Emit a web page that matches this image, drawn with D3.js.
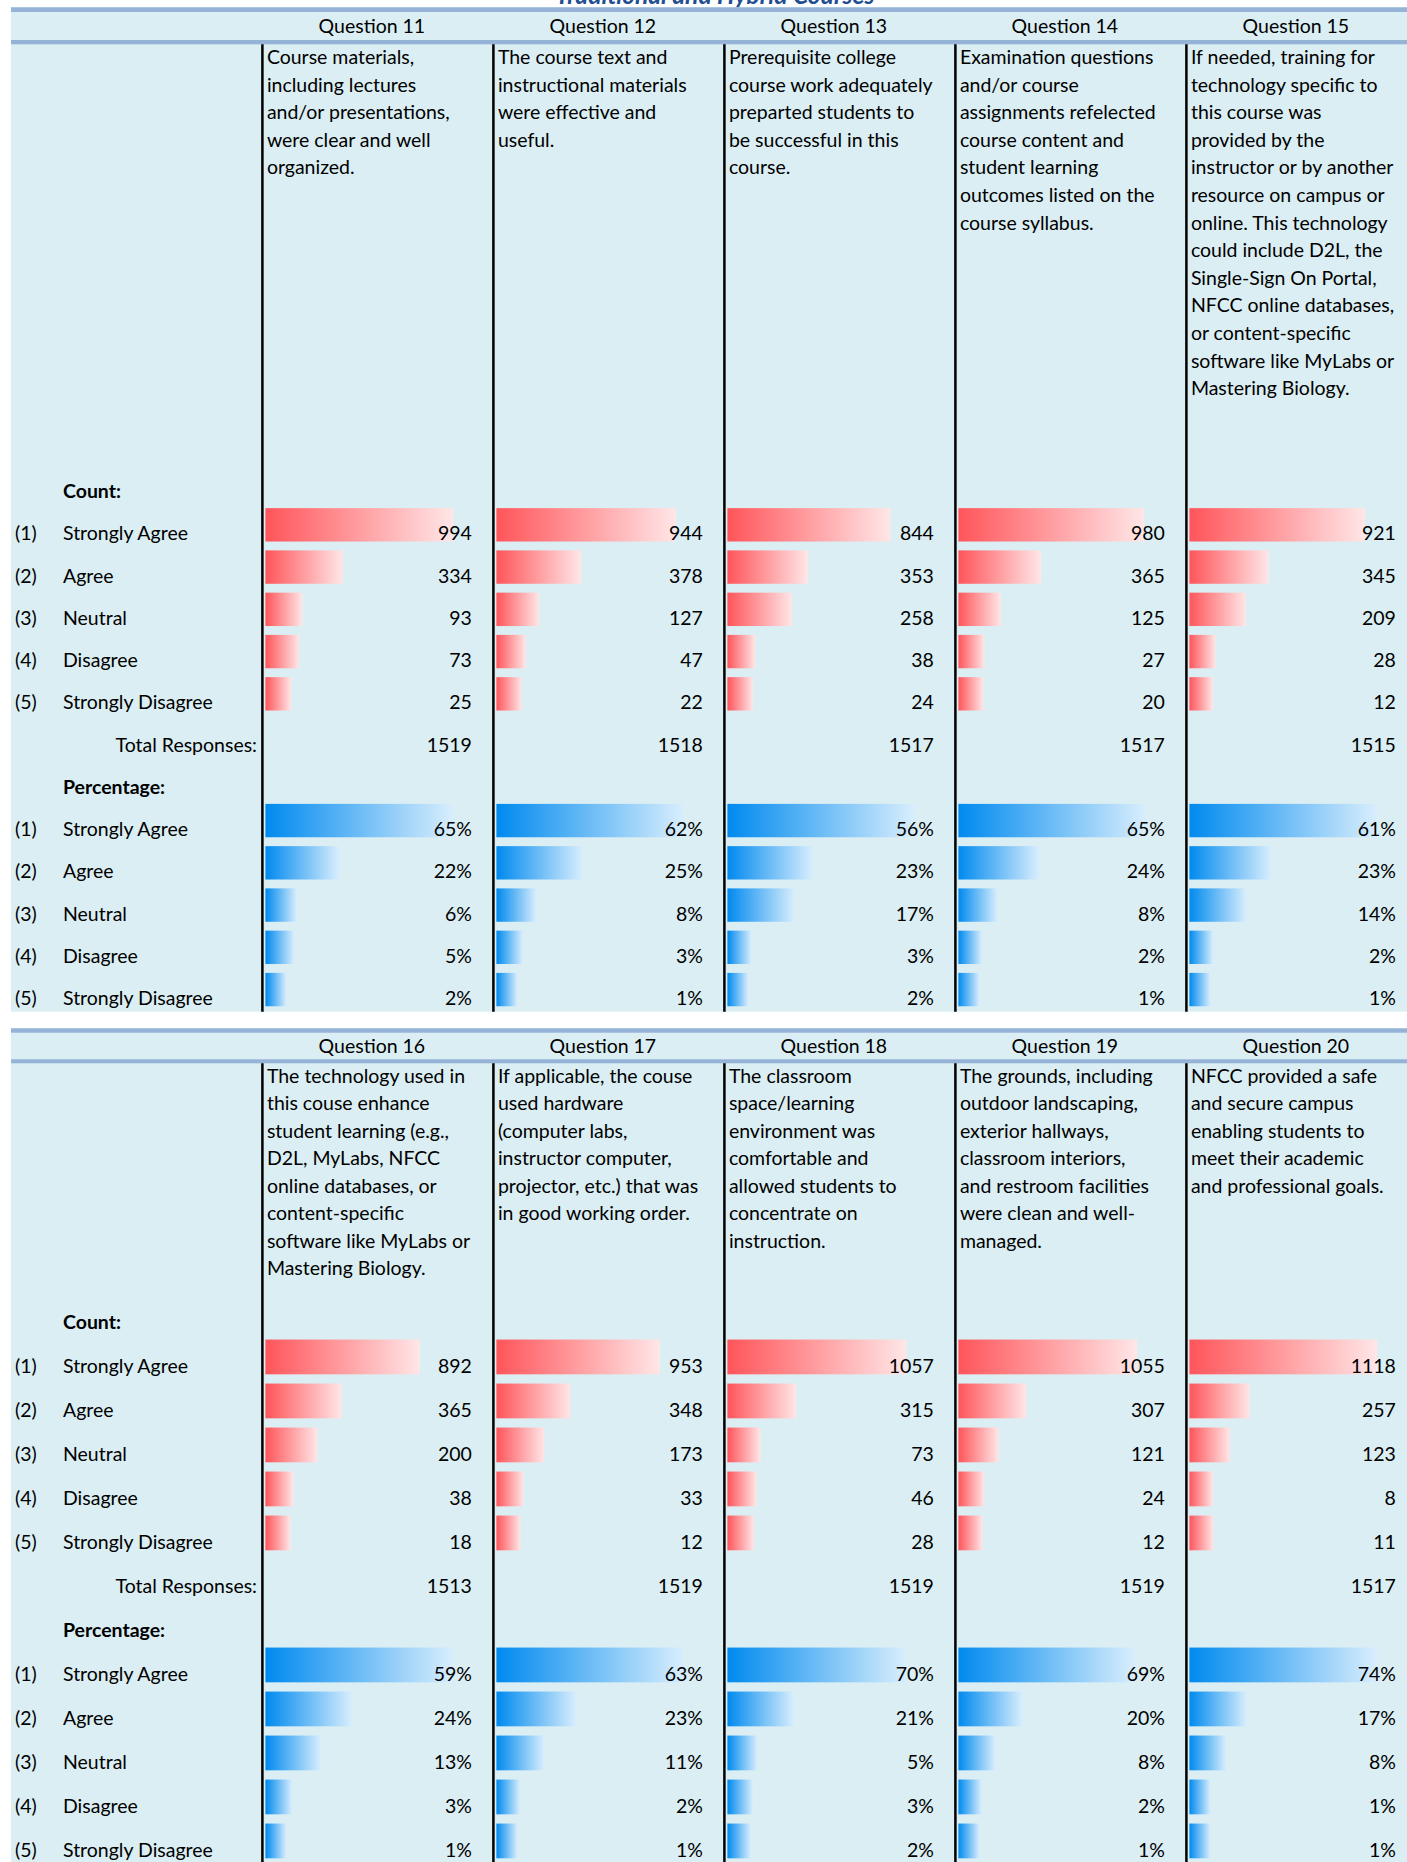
<!DOCTYPE html>
<html><head><meta charset="utf-8">
<script src="https://cdn.jsdelivr.net/npm/d3@7"></script>
<style>html,body{margin:0;padding:0;background:#fff;} svg{display:block;}</style>
</head><body>
<script>
// ---------------- DATA ----------------
const title = "Traditional and Hybrid Courses";
const ratingCodes = ["(1)", "(2)", "(3)", "(4)", "(5)"];
const ratingLabels = ["Strongly Agree", "Agree", "Neutral", "Disagree", "Strongly Disagree"];
const countLabel = "Count:";
const totalLabel = "Total Responses:";
const pctLabel = "Percentage:";

const questionsTop = ["Question 11", "Question 12", "Question 13", "Question 14", "Question 15"];
const questionTextTop = [
  ["Course materials,", "including lectures", "and/or presentations,", "were clear and well", "organized."],
  ["The course text and", "instructional materials", "were effective and", "useful."],
  ["Prerequisite college", "course work adequately", "preparted students to", "be successful in this", "course."],
  ["Examination questions", "and/or course", "assignments refelected", "course content and", "student learning", "outcomes listed on the", "course syllabus."],
  ["If needed, training for", "technology specific to", "this course was", "provided by the", "instructor or by another", "resource on campus or", "online. This technology", "could include D2L, the", "Single-Sign On Portal,", "NFCC online databases,", "or content-specific", "software like MyLabs or", "Mastering Biology."]
];
const countsTop = [
  [994, 334, 93, 73, 25],
  [944, 378, 127, 47, 22],
  [844, 353, 258, 38, 24],
  [980, 365, 125, 27, 20],
  [921, 345, 209, 28, 12]
];
const totalsTop = [1519, 1518, 1517, 1517, 1515];
const pctTop = [
  [65, 22, 6, 5, 2],
  [62, 25, 8, 3, 1],
  [56, 23, 17, 3, 2],
  [65, 24, 8, 2, 1],
  [61, 23, 14, 2, 1]
];
// which data-bar range each column's percentage bars share (as in the source sheet)
const pctBarGroupsTop = [0, 1, 2, 3, 4];

const questionsBottom = ["Question 16", "Question 17", "Question 18", "Question 19", "Question 20"];
const questionTextBottom = [
  ["The technology used in", "this couse enhance", "student learning (e.g.,", "D2L, MyLabs, NFCC", "online databases, or", "content-specific", "software like MyLabs or", "Mastering Biology."],
  ["If applicable, the couse", "used hardware", "(computer labs,", "instructor computer,", "projector, etc.) that was", "in good working order."],
  ["The classroom", "space/learning", "environment was", "comfortable and", "allowed students to", "concentrate on", "instruction."],
  ["The grounds, including", "outdoor landscaping,", "exterior hallways,", "classroom interiors,", "and restroom facilities", "were clean and well-", "managed."],
  ["NFCC provided a safe", "and secure campus", "enabling students to", "meet their academic", "and professional goals."]
];
const countsBottom = [
  [892, 365, 200, 38, 18],
  [953, 348, 173, 33, 12],
  [1057, 315, 73, 46, 28],
  [1055, 307, 121, 24, 12],
  [1118, 257, 123, 8, 11]
];
const totalsBottom = [1513, 1519, 1519, 1519, 1517];
const pctBottom = [
  [59, 24, 13, 3, 1],
  [63, 23, 11, 2, 1],
  [70, 21, 5, 3, 2],
  [69, 20, 8, 2, 1],
  [74, 17, 8, 1, 1]
];
const pctBarGroupsBottom = [0, 1, 2, 2, 2];

// ---------------- LAYOUT ----------------
const W = 1407, H = 1862;
const FONT = "Lato, 'Open Sans', 'Noto Sans', sans-serif";
const C = {
  bg: "#DAEEF3", rule: "#95B3D7", title: "#1F4E91", text: "#000",
  redA: "#FF555A", redB: "#FFE6E7", blueA: "#008AEF", blueB: "#D9EEFD"
};

const svg = d3.select("body").append("svg").attr("width", W).attr("height", H);
const defs = svg.append("defs");
function grad(id, a, b) {
  const g = defs.append("linearGradient").attr("id", id).attr("x1", "0").attr("x2", "1").attr("y1", "0").attr("y2", "0");
  g.append("stop").attr("offset", "0").attr("stop-color", a);
  g.append("stop").attr("offset", "1").attr("stop-color", b);
}
grad("gRed", C.redA, C.redB);
grad("gBlue", C.blueA, C.blueB);

function measure(str, size, weight, style) {
  const t = svg.append("text").attr("font-family", FONT).attr("font-size", size)
    .attr("font-weight", weight || "normal").attr("font-style", style || "normal").text(str);
  const w = t.node().getComputedTextLength(); t.remove(); return w;
}
const FS = 100 * 125 / measure("Strongly Agree", 100);
const TFS = 100 * 319 / measure(title, 100, "bold", "italic");

const colStart = 262.4, colStep = 231;

function drawTable(cfg) {
  const g = svg.append("g");
  const x = d3.scaleBand().domain(cfg.questions).range([colStart, colStart + colStep * cfg.questions.length]).paddingInner(0).paddingOuter(0);
  const row = d3.scaleLinear().domain([0, 1]).range([cfg.rowBase, cfg.rowBase + cfg.pitch]);
  const countScale = d3.scaleLinear().domain(d3.extent(cfg.counts.flat())).range([23.5, 188]);
  const pctScaleFor = i => {
    const members = cfg.pct.filter((p, j) => cfg.pctGroups[j] === cfg.pctGroups[i]).flat();
    return d3.scaleLinear().domain(d3.extent(members)).range([21, 188]);
  };

  g.append("rect").attr("x", 11).attr("y", cfg.top).attr("width", W - 11).attr("height", cfg.bottom - cfg.top).attr("fill", C.bg);
  g.append("rect").attr("x", 11).attr("y", cfg.rule1[0]).attr("width", W - 11).attr("height", cfg.rule1[1] - cfg.rule1[0]).attr("fill", C.rule);
  g.append("rect").attr("x", 11).attr("y", cfg.rule2[0]).attr("width", W - 11).attr("height", cfg.rule2[1] - cfg.rule2[0]).attr("fill", C.rule);

  g.selectAll("line.col").data(cfg.questions).join("line")
    .attr("x1", d => x(d)).attr("x2", d => x(d))
    .attr("y1", cfg.rule2[1]).attr("y2", cfg.bottom)
    .attr("stroke", "#000").attr("stroke-width", 2.5);

  const txt = (sel) => sel.attr("font-family", FONT).attr("font-size", FS).attr("fill", C.text);

  g.selectAll("text.hdr").data(cfg.questions).join("text").call(txt)
    .attr("x", d => x(d) + 109.5).attr("y", cfg.headerBase).attr("text-anchor", "middle").text(d => d);

  cfg.questions.forEach((q, i) => {
    g.selectAll(null).data(cfg.text[i]).join("text").call(txt)
      .attr("x", x(q) + 4.5).attr("y", (d, j) => cfg.textBase + j * cfg.textPitch).text(d => d);
  });

  g.append("text").call(txt).attr("font-weight", "bold").attr("x", 63).attr("y", row(0)).text(countLabel);
  g.append("text").call(txt).attr("font-weight", "bold").attr("x", 63).attr("y", row(7)).text(pctLabel);
  g.append("text").call(txt).attr("x", 257).attr("y", row(6)).attr("text-anchor", "end").text(totalLabel);
  [1, 8].forEach(start => {
    g.selectAll(null).data(ratingCodes).join("text").call(txt)
      .attr("x", 15).attr("y", (d, k) => row(start + k)).text(d => d);
    g.selectAll(null).data(ratingLabels).join("text").call(txt)
      .attr("x", 63).attr("y", (d, k) => row(start + k)).text(d => d);
  });

  const barY = k => row(k) - 0.76 * cfg.pitch;
  const barH = 0.79 * cfg.pitch;

  cfg.questions.forEach((q, i) => {
    const cg = g.append("g");
    cg.selectAll(null).data(cfg.counts[i]).join("rect")
      .attr("x", x(q) + 3).attr("y", (d, k) => barY(1 + k))
      .attr("width", d => countScale(d)).attr("height", barH).attr("fill", "url(#gRed)");
    cg.selectAll(null).data(cfg.counts[i]).join("text").call(txt)
      .attr("x", x(q) + 209.5).attr("y", (d, k) => row(1 + k)).attr("text-anchor", "end").text(d => d);
    cg.append("text").call(txt).attr("x", x(q) + 209.5).attr("y", row(6)).attr("text-anchor", "end").text(cfg.totals[i]);
    const ps = pctScaleFor(i);
    cg.selectAll(null).data(cfg.pct[i]).join("rect")
      .attr("x", x(q) + 3).attr("y", (d, k) => barY(8 + k))
      .attr("width", d => ps(d)).attr("height", barH).attr("fill", "url(#gBlue)");
    cg.selectAll(null).data(cfg.pct[i]).join("text").call(txt)
      .attr("x", x(q) + 209.5).attr("y", (d, k) => row(8 + k)).attr("text-anchor", "end").text(d => d + "%");
  });
}

svg.append("text").attr("x", 715).attr("y", 4).attr("text-anchor", "middle")
  .attr("font-family", FONT).attr("font-size", TFS).attr("font-weight", "bold").attr("font-style", "italic")
  .attr("fill", C.title).text(title);

drawTable({
  questions: questionsTop, text: questionTextTop, counts: countsTop, totals: totalsTop, pct: pctTop,
  pctGroups: pctBarGroupsTop,
  top: 7.3, bottom: 1011.7, rule1: [7.3, 12], rule2: [40, 44.3],
  headerBase: 33.3, textBase: 64, textPitch: 27.6, rowBase: 498, pitch: 42.25
});
drawTable({
  questions: questionsBottom, text: questionTextBottom, counts: countsBottom, totals: totalsBottom, pct: pctBottom,
  pctGroups: pctBarGroupsBottom,
  top: 1028.3, bottom: H, rule1: [1028.3, 1032.7], rule2: [1059.3, 1063.3],
  headerBase: 1053.3, textBase: 1082.7, textPitch: 27.5, rowBase: 1329, pitch: 44
});
</script>
</body></html>
